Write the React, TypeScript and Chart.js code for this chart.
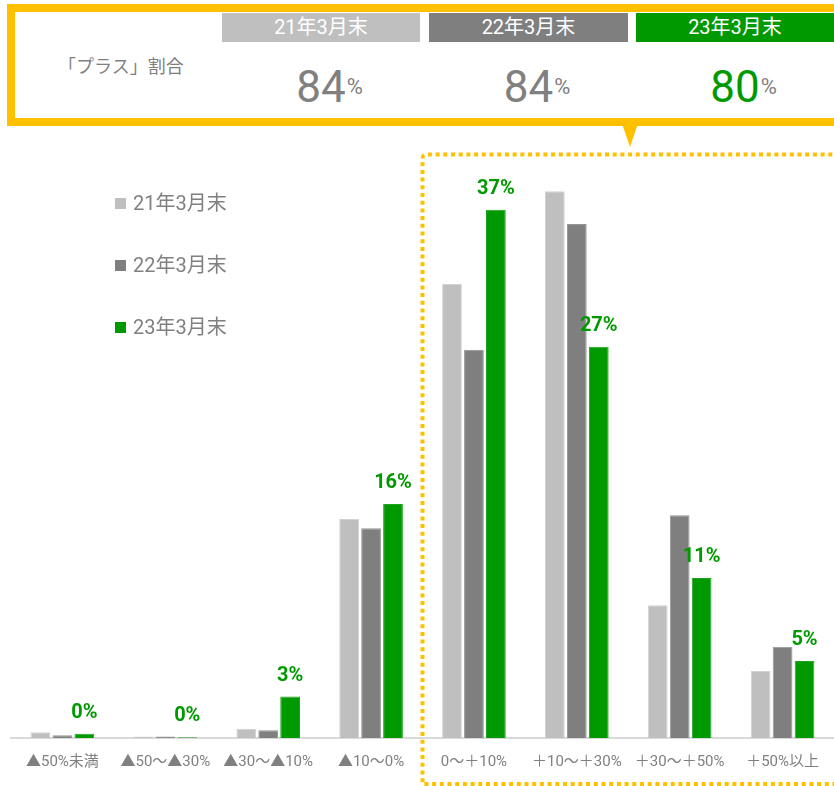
import React, { useEffect, useRef } from "react";
import { Chart, registerables } from "chart.js";

Chart.register(...registerables);

// ---- data ----
const categories = [
  "▲50%未満",
  "▲50～▲30%",
  "▲30～▲10%",
  "▲10～0%",
  "0～＋10%",
  "＋10～＋30%",
  "＋30～＋50%",
  "＋50%以上",
];
const seriesNames = ["21年3月末", "22年3月末", "23年3月末"];
const values21 = [0.4, 0.1, 0.65, 15.35, 31.8, 38.3, 9.3, 4.7];
const values22 = [0.2, 0.1, 0.55, 14.7, 27.2, 36.0, 15.6, 6.4];
const values23 = [0.3, 0.05, 2.9, 16.4, 37.0, 27.4, 11.2, 5.4];
const labels23 = ["0%", "0%", "3%", "16%", "37%", "27%", "11%", "5%"];
const plusShareTitle = "「プラス」割合";
const plusShareValues = ["84", "84", "80"];

const seriesColors = ["#BFBFBF", "#7F7F7F", "#009900"];
const seriesBorders = ["#D2D2D2", "#969696", "#1FA31F"];
const ORANGE = "#FFC000";
const GRAY_TEXT = "#808080";
const FONT = "Roboto, 'Noto Sans CJK JP', sans-serif";

const W = 834;
const H = 786;

const headerCells = [
  { left: 222, width: 198 },
  { left: 429, width: 199 },
  { left: 636, width: 198 },
];

const decorPlugin = {
  id: "decor",
  beforeDraw(chart: any) {
    const ctx = chart.ctx;
    ctx.save();
    // dotted highlight frame
    ctx.strokeStyle = ORANGE;
    ctx.lineWidth = 4;
    ctx.setLineDash([4, 3.7]);
    ctx.lineCap = "butt";
    const x0 = 422.5;
    const y0 = 154.5;
    const x1 = 840;
    const y1 = 784;
    const r = 4;
    ctx.beginPath();
    ctx.moveTo(x1, y0);
    ctx.lineTo(x0 + r, y0);
    ctx.quadraticCurveTo(x0, y0, x0, y0 + r);
    ctx.lineTo(x0, y1);
    ctx.lineTo(x1, y1);
    ctx.stroke();
    ctx.setLineDash([]);
    // pointer triangle
    ctx.fillStyle = ORANGE;
    ctx.beginPath();
    ctx.moveTo(622.5, 125);
    ctx.lineTo(637.5, 125);
    ctx.lineTo(630, 147);
    ctx.closePath();
    ctx.fill();
    ctx.restore();
  },
  afterDatasetsDraw(chart: any) {
    const ctx = chart.ctx;
    const meta = chart.getDatasetMeta(2);
    ctx.save();
    ctx.fillStyle = seriesColors[2];
    ctx.font = `bold 20px ${FONT}`;
    ctx.textAlign = "center";
    ctx.textBaseline = "alphabetic";
    meta.data.forEach((el: any, i: number) => {
      ctx.fillText(labels23[i], el.x, el.y - 16);
    });
    ctx.restore();
  },
};

function BarChart() {
  const ref = useRef<HTMLCanvasElement | null>(null);
  useEffect(() => {
    if (!ref.current) return;
    const series = [values21, values22, values23];
    const chart = new Chart(ref.current, {
      type: "bar",
      data: {
        labels: categories,
        datasets: series.map((vals, i) => ({
          label: seriesNames[i],
          data: vals,
          backgroundColor: seriesColors[i],
          borderColor: seriesBorders[i],
          borderWidth: 1,
          categoryPercentage: 0.64,
          barPercentage: 0.9,
        })),
      },
      options: {
        responsive: false,
        animation: false,
        devicePixelRatio: 1,
        layout: { padding: { top: 167, left: 11, right: -3, bottom: 0 } },
        plugins: {
          legend: { display: false },
          tooltip: { enabled: false },
        },
        scales: {
          x: {
            grid: { display: false, drawTicks: false },
            border: { display: true, color: "#D9D9D9", width: 2 },
            ticks: {
              color: GRAY_TEXT,
              font: { family: FONT, size: 15 },
              padding: 15,
              autoSkip: false,
              maxRotation: 0,
            },
            afterFit: (scale: any) => {
              scale.height = 48;
            },
          },
          y: {
            display: false,
            min: 0,
            max: 40,
          },
        },
      },
      plugins: [decorPlugin],
    });
    return () => chart.destroy();
  }, []);
  return <canvas ref={ref} width={W} height={H} style={{ display: "block", width: W, height: H }} />;
}

export default function App() {
  return (
    <div
      style={{
        position: "absolute",
        left: 0,
        top: 0,
        width: W,
        height: H,
        overflow: "hidden",
        background: "#fff",
        fontFamily: FONT,
      }}
    >
      <BarChart />
      {/* top summary box */}
      <div
        style={{
          position: "absolute",
          left: 7,
          top: 4,
          width: 850,
          height: 122,
          border: `8px solid ${ORANGE}`,
          boxSizing: "border-box",
          background: "#fff",
        }}
      />
      {headerCells.map((c, i) => (
        <div
          key={"h" + i}
          style={{
            position: "absolute",
            left: c.left,
            top: 13,
            width: c.width,
            height: 29,
            background: seriesColors[i],
            color: "#fff",
            fontSize: 20,
            lineHeight: "29px",
            textAlign: "center",
          }}
        >
          {seriesNames[i]}
        </div>
      ))}
      <div
        style={{
          position: "absolute",
          left: 58,
          top: 56,
          fontSize: 18,
          lineHeight: "22px",
          color: GRAY_TEXT,
          whiteSpace: "nowrap",
        }}
      >
        {plusShareTitle}
      </div>
      {headerCells.map((c, i) => (
        <div
          key={"v" + i}
          style={{
            position: "absolute",
            left: c.left,
            top: 65,
            width: c.width,
            textAlign: "center",
            fontSize: 44,
            fontWeight: 400,
            lineHeight: "44px",
            color: i === 2 ? seriesColors[2] : GRAY_TEXT,
            whiteSpace: "nowrap",
          }}
        >
          <span style={{ position: "relative" }}>
            {plusShareValues[i]}
            <span
              style={{
                position: "absolute",
                left: "100%",
                marginLeft: 1,
                top: 15,
                fontSize: 22,
                fontWeight: 400,
                lineHeight: "22px",
                color: GRAY_TEXT,
              }}
            >
              %
            </span>
          </span>
        </div>
      ))}
      {/* legend */}
      {seriesNames.map((n, i) => (
        <div
          key={"l" + i}
          style={{
            position: "absolute",
            left: 115,
            top: 192 + i * 62,
            height: 22,
            display: "flex",
            alignItems: "center",
            whiteSpace: "nowrap",
          }}
        >
          <span
            style={{
              display: "inline-block",
              width: 11,
              height: 11,
              background: seriesColors[i],
              marginRight: 7,
            }}
          />
          <span style={{ fontSize: 20, lineHeight: "22px", color: GRAY_TEXT }}>{n}</span>
        </div>
      ))}
    </div>
  );
}
